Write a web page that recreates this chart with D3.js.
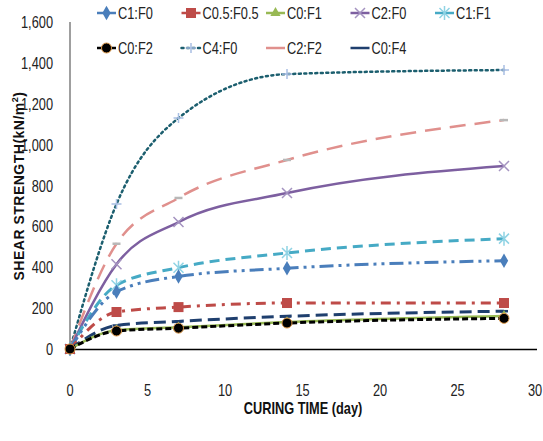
<!DOCTYPE html>
<html>
<head>
<meta charset="utf-8">
<script src="https://cdn.jsdelivr.net/npm/d3@7"></script>
<style>
  body { margin: 0; background: #fff; }
  text { font-family: "Liberation Sans", Arial, sans-serif; }
</style>
</head>
<body>
<svg id="chart" width="543" height="441"></svg>
<script>
const days = [0, 3, 7, 14, 28];
const seriesNames = ["C1:F0", "C0.5:F0.5", "C0:F1", "C2:F0", "C1:F1", "C0:F2", "C4:F0", "C2:F2", "C0:F4"];
const c1f0 = [0, 280, 355, 395, 432];
const c05f05 = [0, 181, 205, 225, 225];
const c0f1 = [0, 92, 106, 132, 162];
const c2f0 = [0, 415, 621, 763, 895];
const c1f1 = [0, 312, 398, 470, 540];
const c0f2 = [0, 88, 102, 127, 150];
const c4f0 = [0, 709, 1130, 1345, 1365];
const c2f2 = [0, 515, 739, 925, 1120];
const c0f4 = [0, 115, 135, 160, 185];
const xTicks = [0, 5, 10, 15, 20, 25, 30];
const yTicks = [0, 200, 400, 600, 800, 1000, 1200, 1400, 1600];

const values = [c1f0, c05f05, c0f1, c2f0, c1f1, c0f2, c4f0, c2f2, c0f4];

// look of each series: line colour, dash, width, marker
const styles = [
  { color: "#4a7ebb", dash: "14,5,3,5,3,5", w: 3, marker: "diamond", mfill: "#4a7ebb" },
  { color: "#be4b48", dash: "10,6,3,6", w: 3, marker: "square", mfill: "#be4b48" },
  { color: "#98b954", dash: null, w: 2.5, marker: "triangle", mfill: "#98b954" },
  { color: "#7d5fa0", dash: null, w: 2.5, marker: "x", mfill: "#a493c0" },
  { color: "#46aac5", dash: "10,6", w: 3, marker: "star", mfill: "#8fd3e4" },
  { color: "#000000", dash: "6,3", w: 3, marker: "circle", mfill: "#000000" },
  { color: "#1b5e6e", dash: "2,3.5", w: 2.5, marker: "plus", mfill: "#a9bfe3", cap: "round" },
  { color: "#e0908d", dash: "16,9", w: 2.5, marker: "dash", mfill: "#b8b8b8" },
  { color: "#1f3f6e", dash: "12,6", w: 3, marker: "dash", mfill: "#1f3f6e" }
];

const svg = d3.select("#chart");
const x = d3.scaleLinear().domain([0, 30]).range([70, 535]);
const y = d3.scaleLinear().domain([0, 1600]).range([349, 22]);

// condensed text: the original uses a narrow face, so squeeze Liberation Sans
function narrow(g, tx, ty, anchor, size, str, bold) {
  return g.append("text")
    .attr("transform", `translate(${tx},${ty}) scale(0.8,1)`)
    .attr("text-anchor", anchor).attr("font-size", size)
    .attr("font-weight", bold ? "bold" : null).attr("fill", "#222")
    .text(str);
}

// axes
svg.append("line").attr("x1", x(0)).attr("x2", x(0)).attr("y1", y(1600)).attr("y2", y(0))
  .attr("stroke", "#7f7f7f").attr("stroke-width", 1.5);
svg.append("line").attr("x1", x(0)).attr("x2", x(30) + 2).attr("y1", y(0) + 0.5).attr("y2", y(0) + 0.5)
  .attr("stroke", "#000").attr("stroke-width", 1.5);

const yg = svg.append("g");
yTicks.forEach(d => narrow(yg, 53, y(d) + 6, "end", 16, d3.format(",")(d)));

const xg = svg.append("g");
xTicks.forEach(d => narrow(xg, x(d), 396, "middle", 16, String(d)));

narrow(svg, 303, 414, "middle", 16, "CURING TIME (day)", true).attr("fill", "#111");

const yt = svg.append("text").attr("transform", "translate(24,186) rotate(-90)")
  .attr("text-anchor", "middle").attr("font-size", 14).attr("font-weight", "bold").attr("fill", "#111")
  .attr("letter-spacing", 0.5);
yt.append("tspan").text("SHEAR STRENGTH(kN/m");
yt.append("tspan").attr("dy", -6).attr("font-size", 9).text("2");
yt.append("tspan").attr("dy", 6).text(")");

function drawMarker(g, type, cx, cy, s) {
  const fill = s.mfill;
  if (type === "diamond") {
    g.append("path").attr("d", d3.symbol(d3.symbolDiamond, 60)()).attr("transform", `translate(${cx},${cy})`).attr("fill", fill);
  } else if (type === "square") {
    g.append("rect").attr("x", cx - 5).attr("y", cy - 5).attr("width", 10).attr("height", 10).attr("fill", fill);
  } else if (type === "triangle") {
    g.append("path").attr("d", d3.symbol(d3.symbolTriangle, 45)()).attr("transform", `translate(${cx},${cy})`).attr("fill", fill);
  } else if (type === "circle") {
    g.append("circle").attr("cx", cx).attr("cy", cy).attr("r", 5).attr("fill", fill).attr("stroke", "#e09a4a").attr("stroke-width", 1);
  } else if (type === "x") {
    g.append("path").attr("d", `M${cx - 5},${cy - 5}L${cx + 5},${cy + 5}M${cx - 5},${cy + 5}L${cx + 5},${cy - 5}`)
      .attr("stroke", fill).attr("stroke-width", 1.5);
  } else if (type === "star") {
    g.append("path").attr("d", `M${cx - 5},${cy - 5}L${cx + 5},${cy + 5}M${cx - 5},${cy + 5}L${cx + 5},${cy - 5}M${cx},${cy - 7}L${cx},${cy + 7}`)
      .attr("stroke", fill).attr("stroke-width", 1.5);
  } else if (type === "plus") {
    g.append("path").attr("d", `M${cx - 5},${cy}L${cx + 5},${cy}M${cx},${cy - 5}L${cx},${cy + 5}`)
      .attr("stroke", fill).attr("stroke-width", 1.5);
  } else if (type === "dash") {
    g.append("path").attr("d", `M${cx - 4},${cy}L${cx + 4},${cy}`).attr("stroke", fill).attr("stroke-width", 2.5);
  }
}

const line = d3.line().x(d => x(d[0])).y(d => y(d[1])).curve(d3.curveMonotoneX);
const plot = svg.append("g");

// draw from back to front similar to the reference
const order = [6, 7, 3, 4, 0, 1, 8, 2, 5];
order.forEach(i => {
  const s = styles[i];
  const pts = days.map((d, j) => [d, values[i][j]]);
  plot.append("path").datum(pts).attr("d", line)
    .attr("fill", "none").attr("stroke", s.color).attr("stroke-width", s.w)
    .attr("stroke-dasharray", s.dash).attr("stroke-linecap", s.cap || "butt");
  const mg = plot.append("g");
  pts.forEach(p => drawMarker(mg, s.marker, x(p[0]), y(p[1]), s));
});

// legend
const legend = svg.append("g");
seriesNames.forEach((name, i) => {
  const s = styles[i];
  const col = i < 5 ? i : i - 5;
  const row = i < 5 ? 0 : 1;
  const lx = 97 + col * 84.5;
  const ly = row === 0 ? 13 : 48;
  legend.append("line").attr("x1", lx).attr("x2", lx + 19).attr("y1", ly).attr("y2", ly)
    .attr("stroke", s.color).attr("stroke-width", 2.5).attr("stroke-dasharray", i === 6 ? "2,3.5" : null)
    .attr("stroke-linecap", s.cap || "butt");
  if (s.marker !== "dash") drawMarker(legend, s.marker, lx + 9.5, ly, s);
  narrow(legend, lx + 21, ly + 6, "start", 16, name);
});
</script>
</body>
</html>
